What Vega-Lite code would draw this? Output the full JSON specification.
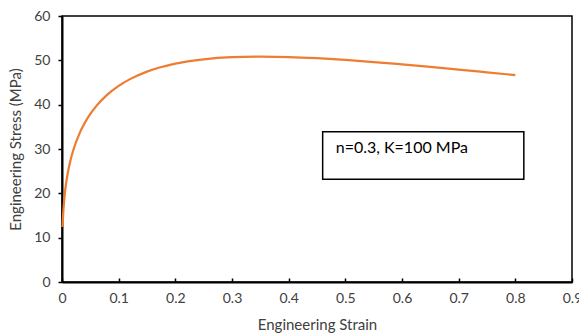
{
  "$schema": "https://vega.github.io/schema/vega-lite/v6.json",
  "width": 510,
  "height": 266,
  "autosize": {"type": "none"},
  "padding": {"left": 62, "top": 16, "right": 7, "bottom": 54},
  "config": {
    "view": {"stroke": "#000000", "strokeWidth": 1.5},
    "font": "Lato",
    "axis": {
      "labelFont": "Lato",
      "labelFontSize": 14,
      "labelColor": "#404040",
      "titleFont": "Lato",
      "titleFontSize": 15,
      "titleFontWeight": "normal",
      "titleColor": "#404040",
      "domainColor": "#000000",
      "domainWidth": 2,
      "tickColor": "#000000",
      "tickWidth": 1.5,
      "grid": false
    }
  },
  "layer": [
    {
      "data": {
        "values": [
          {"strain": 0.001, "stress": 12.39},
          {"strain": 0.002, "stress": 15.23},
          {"strain": 0.004, "stress": 18.71},
          {"strain": 0.006, "stress": 21.08},
          {"strain": 0.01, "stress": 24.46},
          {"strain": 0.015, "stress": 27.47},
          {"strain": 0.02, "stress": 29.78},
          {"strain": 0.03, "stress": 33.25},
          {"strain": 0.04, "stress": 35.85},
          {"strain": 0.05, "stress": 37.91},
          {"strain": 0.06, "stress": 39.61},
          {"strain": 0.08, "stress": 42.26},
          {"strain": 0.1, "stress": 44.24},
          {"strain": 0.12, "stress": 45.76},
          {"strain": 0.15, "stress": 47.46},
          {"strain": 0.2, "stress": 49.26},
          {"strain": 0.25, "stress": 50.24},
          {"strain": 0.3, "stress": 50.72},
          {"strain": 0.35, "stress": 50.85},
          {"strain": 0.4, "stress": 50.75},
          {"strain": 0.45, "stress": 50.48},
          {"strain": 0.5, "stress": 50.09},
          {"strain": 0.55, "stress": 49.62},
          {"strain": 0.6, "stress": 49.08},
          {"strain": 0.65, "stress": 48.51},
          {"strain": 0.7, "stress": 47.91},
          {"strain": 0.75, "stress": 47.29},
          {"strain": 0.8, "stress": 46.66}
        ]
      },
      "mark": {"type": "line", "color": "#ED7D31", "strokeWidth": 2.25, "interpolate": "monotone"},
      "encoding": {
        "x": {
          "field": "strain",
          "type": "quantitative",
          "title": "Engineering Strain",
          "scale": {"domain": [0, 0.9], "nice": false},
          "axis": {"values": [0, 0.1, 0.2, 0.3, 0.4, 0.5, 0.6, 0.7, 0.8, 0.9], "tickSize": -4, "labelPadding": 13, "titlePadding": 12, "labelFlush": false, "format": "~g"}
        },
        "y": {
          "field": "stress",
          "type": "quantitative",
          "title": "Engineering Stress (MPa)",
          "scale": {"domain": [0, 60], "nice": false},
          "axis": {"values": [0, 10, 20, 30, 40, 50, 60], "tickSize": 4, "labelPadding": 8, "titlePadding": 10}
        }
      }
    },
    {
      "data": {"values": [{"x1": 0.46, "x2": 0.815, "y1": 33.9, "y2": 23.2, "label": "n=0.3, K=100 MPa", "tx": 0.483, "ty": 30.2}]},
      "layer": [
        {
          "mark": {"type": "rect", "fill": "#ffffff", "stroke": "#000000", "strokeWidth": 1.5},
          "encoding": {
            "x": {"field": "x1", "type": "quantitative"},
            "x2": {"field": "x2"},
            "y": {"field": "y1", "type": "quantitative"},
            "y2": {"field": "y2"}
          }
        },
        {
          "mark": {"type": "text", "align": "left", "baseline": "middle", "fontSize": 16, "font": "Lato", "color": "#000000"},
          "encoding": {
            "x": {"field": "tx", "type": "quantitative"},
            "y": {"field": "ty", "type": "quantitative"},
            "text": {"field": "label"}
          }
        }
      ]
    }
  ]
}
